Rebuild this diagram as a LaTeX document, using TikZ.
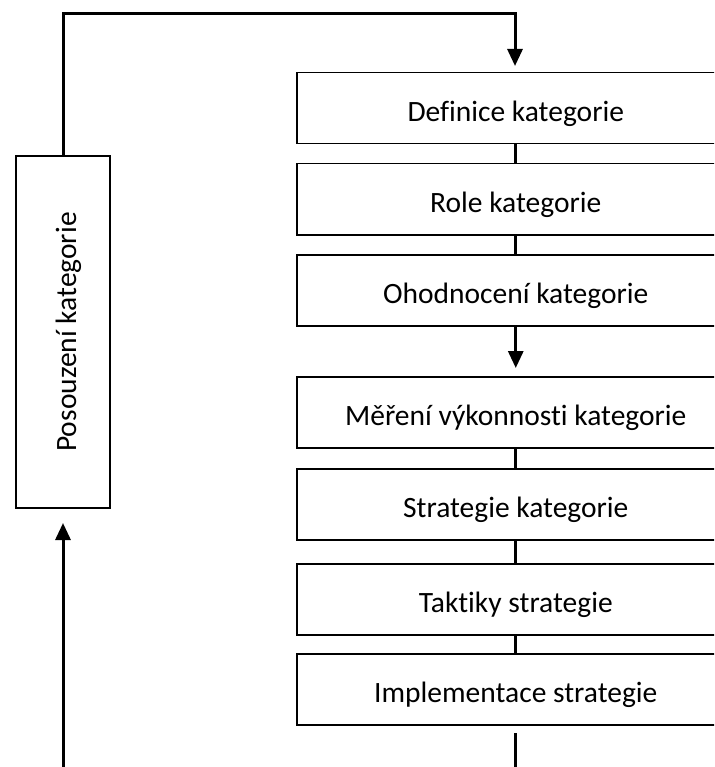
\documentclass[tikz,border=0pt]{standalone}
\usepackage{fontspec}
\setmainfont{Carlito}[Ligatures=NoCommon]
\usetikzlibrary{arrows.meta,positioning}

\begin{document}
\begin{tikzpicture}[
  x=1pt, y=-1pt,
  >={Triangle[length=17pt,width=15pt]},
  stepbox/.style={draw, line width=1.5pt, minimum width=438pt, minimum height=71pt, anchor=north west, inner sep=0pt, text height=26pt, text depth=0pt, font=\fontsize{29.5}{34}\selectfont},
  sidebox/.style={draw, line width=1.5pt, minimum width=352pt, minimum height=94pt, rotate=90, inner sep=0pt, text height=26pt, text depth=0pt, font=\fontsize{29.5}{34}\selectfont},
  flow/.style={line width=3pt}
]

% Frame
\useasboundingbox (0,0) rectangle (714,767);
\clip (0,0) rectangle (714,767);

% Process steps
\node[stepbox] (def)   at (296,72)  {Definice kategorie};
\node[stepbox] (role)  at (296,163) {Role kategorie};
\node[stepbox] (eval)  at (296,254) {Ohodnocení kategorie};
\node[stepbox] (perf)  at (296,376) {Měření výkonnosti kategorie};
\node[stepbox] (strat) at (296,468) {Strategie kategorie};
\node[stepbox] (tact)  at (296,563) {Taktiky strategie};
\node[stepbox] (impl)  at (296,653) {Implementace strategie};

% Feedback box
\node[sidebox] (assess) at (63,332) {Posouzení kategorie};

% Links between steps
\draw[flow] (def.south) -- (role.north);
\draw[flow] (role.south) -- (eval.north);
\draw[flow, ->, shorten >=8pt] (eval.south) -- (perf.north);
\draw[flow] (perf.south) -- (strat.north);
\draw[flow] (strat.south) -- (tact.north);
\draw[flow] (tact.south) -- (impl.north);

% Loop back to the start
\coordinate (topturn) at (515,14);
\coordinate (deftip)  at (515,66);
\draw[flow, ->] (assess.east) |- (topturn) -- (deftip);

% Incoming and outgoing lines
\coordinate (feedin)  at (63,767);
\coordinate (asstip)  at (63,523);
\draw[flow, ->] (feedin) -- (asstip);
\coordinate (implout) at (515,733);
\coordinate (exit)    at (515,767);
\draw[flow] (implout) -- (exit);

\end{tikzpicture}
\end{document}
